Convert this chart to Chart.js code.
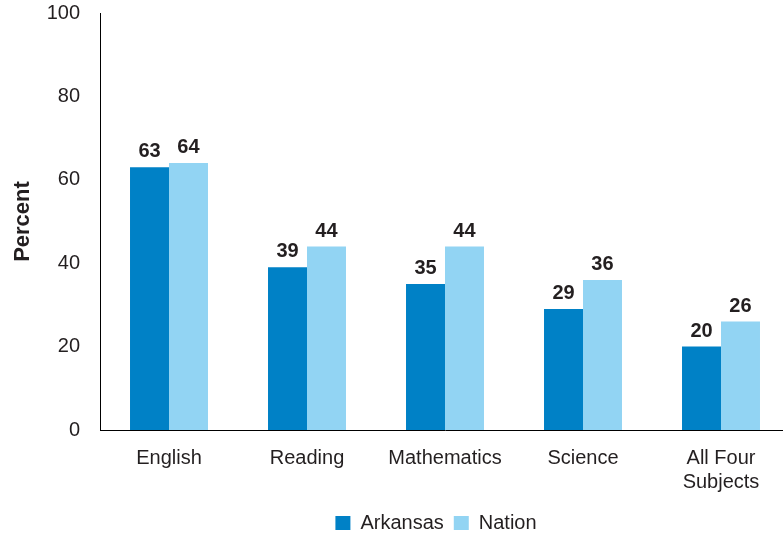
<!DOCTYPE html>
<html>
<head>
<meta charset="utf-8">
<script src="https://cdn.jsdelivr.net/npm/chart.js@4.4.0/dist/chart.umd.min.js"></script>
<style>
html,body{margin:0;padding:0;background:#fff;overflow:hidden}
#wrap{position:absolute;left:0;top:0;width:870px;height:533px}
</style>
</head>
<body>
<div id="wrap"><canvas id="chart"></canvas></div>
<script>

// chart data
const subjects = ["English","Reading","Mathematics","Science",["All Four","Subjects"]]
const arkansas = [63,39,35,29,20]
const nation = [64,44,44,36,26]
const yTicks = [0,20,40,60,80,100]

const darkBlue = "#0081C6"
const lightBlue = "#92D4F3"
const textColor = "#231F20"
const fontFamily = "'Liberation Sans', Arial, sans-serif"

// value labels above bars
const barLabels = {
id:"barLabels",
afterDatasetsDraw(chart){
const ctx = chart.ctx
ctx.save()
ctx.font = "bold 20px " + fontFamily
ctx.fillStyle = textColor
ctx.textAlign = "center"
ctx.textBaseline = "alphabetic"
chart.data.datasets.forEach((ds,i)=>{
chart.getDatasetMeta(i).data.forEach((bar,j)=>{
ctx.fillText(ds.data[j], bar.x, bar.y-10)
})
})
ctx.restore()
}
}

// legend sits a bit right of the canvas centre
const legendShift = {
id:"legendShift",
afterLayout(chart){
chart.legend.left += 41
chart.legend.right += 41
}
}

new Chart(document.getElementById("chart"),{

type:"bar",

data:{
labels:subjects,
datasets:[
{label:"Arkansas",data:arkansas,backgroundColor:darkBlue,categoryPercentage:0.565,barPercentage:1},
{label:"Nation",data:nation,backgroundColor:lightBlue,categoryPercentage:0.565,barPercentage:1}
]
},

options:{
responsive:true,
maintainAspectRatio:false,
animation:false,
layout:{autoPadding:false,padding:{top:13,right:80,left:0,bottom:-10}},

plugins:{
legend:{
position:"bottom",
labels:{
color:textColor,
boxWidth:15,
boxHeight:14,
padding:10,
font:{size:20,family:fontFamily}
}
},
tooltip:{enabled:false}
},

scales:{

x:{
afterFit:(scale)=>{scale.height = 73},
grid:{display:false,drawTicks:false},
border:{display:true,color:"#000",width:1},
ticks:{
color:textColor,
padding:16,
font:{size:20,family:fontFamily}
}
},

y:{
min:0,
max:100,
afterFit:(scale)=>{scale.width = 100},
afterBuildTicks:(axis)=>{axis.ticks = yTicks.map(v=>({value:v}))},
// hidden tick marks give the gap between labels and axis
grid:{display:false,drawTicks:true,tickLength:20},
border:{display:true,color:"#000",width:1},
title:{
display:true,
text:"Percent",
color:textColor,
padding:{top:10,bottom:0},
font:{size:22,weight:"bold",family:fontFamily}
},
ticks:{
color:textColor,
padding:0,
font:{size:20,family:fontFamily}
}
}

}

},

plugins:[barLabels,legendShift]

})
</script>
</body>
</html>
